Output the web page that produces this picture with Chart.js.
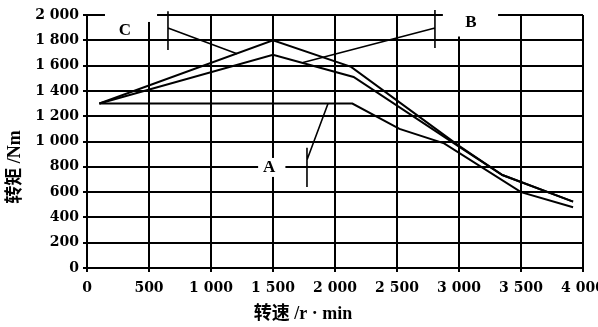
<!DOCTYPE html>
<html>
<head>
<meta charset="utf-8">
<script src="https://cdn.jsdelivr.net/npm/chart.js@4/dist/chart.umd.min.js"></script>
<style>
  html, body { margin: 0; padding: 0; background: #fff; }
</style>
</head>
<body>
<canvas id="chart" width="598" height="327"></canvas>
<script>
// torque curves, speed in r/min, torque in Nm
const speedA = [100, 2140, 2520, 2880, 3500, 3920];
const torqueA = [1300, 1300, 1100, 985, 600, 480];
const speedB = [100, 1500, 2150, 3000, 3350, 3920];
const torqueB = [1300, 1685, 1510, 960, 735, 525];
const speedC = [100, 1500, 2130, 3000, 3350, 3920];
const torqueC = [1300, 1800, 1590, 965, 735, 525];

const xTickLabels = ['0', '500', '1 000', '1 500', '2 000', '2 500', '3 000', '3 500', '4 000'];
const yTickLabels = ['0', '200', '400', '600', '800', '1 000', '1 200', '1 400', '1 600', '1 800', '2 000'];

// leader lines for the curve labels
const leaderA = [[1774, 950], [1774, 640], null, [1774, 854], [1944, 1300]];
const leaderB = [[2806, 2040], [2806, 1740], null, [2806, 1897], [1742, 1625]];
const leaderC = [[653, 2030], [653, 1724], null, [653, 1897], [1210, 1694]];

const curveLabels = [
  { text: 'A', x: 1468, y: 790, box: [1380, 1600, 870, 720] },
  { text: 'B', x: 3097, y: 1937, box: [2870, 3315, 2120, 1830] },
  { text: 'C', x: 306, y: 1873, box: [145, 565, 2120, 1945] }
];

const xTitle = '转速 /r · min';
const yTitle = '转矩 /Nm';

const toPoints = (xs, ys) => xs.map((x, i) => ({ x: x, y: ys[i] }));
const toLeader = (pts) => pts.map(p => p ? { x: p[0], y: p[1] } : { x: null, y: null });

const serif = "'Liberation Serif', 'Noto Sans CJK SC', serif";
const tickFont = "'DejaVu Serif', serif";

const labelPlugin = {
  id: 'curveLabels',
  beforeDatasetsDraw(chart) {
    const ctx = chart.ctx;
    const xs = chart.scales.x, ys = chart.scales.y;
    ctx.save();
    curveLabels.forEach(l => {
      const x0 = xs.getPixelForValue(l.box[0]), x1 = xs.getPixelForValue(l.box[1]);
      const y0 = ys.getPixelForValue(l.box[2]), y1 = ys.getPixelForValue(l.box[3]);
      ctx.fillStyle = '#fff';
      ctx.fillRect(x0, y0, x1 - x0, y1 - y0);
    });
    ctx.fillStyle = '#000';
    ctx.font = 'bold 17px ' + serif;
    ctx.textAlign = 'center';
    ctx.textBaseline = 'middle';
    curveLabels.forEach(l => {
      ctx.fillText(l.text, xs.getPixelForValue(l.x), ys.getPixelForValue(l.y));
    });
    ctx.restore();
  },
  afterDraw(chart) {
    // axis titles, placed off-centre as in the source figure
    const ctx = chart.ctx;
    const area = chart.chartArea;
    ctx.save();
    ctx.fillStyle = '#000';
    ctx.font = 'bold 18px ' + serif;
    ctx.textAlign = 'center';
    ctx.textBaseline = 'middle';
    ctx.fillText(xTitle, area.left + 216, area.bottom + 46);
    ctx.translate(15, area.top + 152);
    ctx.rotate(-Math.PI / 2);
    ctx.fillText(yTitle, 0, 0);
    ctx.restore();
  }
};

const lineStyle = { borderColor: '#000', borderWidth: 2, pointRadius: 0, fill: false, tension: 0 };
const leaderStyle = { borderColor: '#000', borderWidth: 1.6, pointRadius: 0, fill: false, spanGaps: false, clip: false };

new Chart(document.getElementById('chart'), {
  type: 'line',
  data: {
    datasets: [
      Object.assign({ label: 'A', data: toPoints(speedA, torqueA) }, lineStyle),
      Object.assign({ label: 'B', data: toPoints(speedB, torqueB) }, lineStyle),
      Object.assign({ label: 'C', data: toPoints(speedC, torqueC) }, lineStyle),
      Object.assign({ label: 'la', data: toLeader(leaderA) }, leaderStyle),
      Object.assign({ label: 'lb', data: toLeader(leaderB) }, leaderStyle),
      Object.assign({ label: 'lc', data: toLeader(leaderC) }, leaderStyle)
    ]
  },
  options: {
    responsive: false,
    animation: false,
    layout: { padding: { top: 15, right: 15, left: 0, bottom: 0 } },
    plugins: {
      legend: { display: false },
      tooltip: { enabled: false }
    },
    scales: {
      x: {
        type: 'linear',
        min: 0, max: 4000,
        afterFit: (s) => { s.paddingRight = 0; s.paddingLeft = 0; s.height = 59; },
        grid: { color: '#000', lineWidth: 2, tickLength: 4 },
        border: { color: '#000', width: 2 },
        ticks: {
          stepSize: 500,
          color: '#000',
          padding: 8,
          maxRotation: 0,
          font: { family: tickFont, weight: 'bold', size: 14 },
          callback: (v) => xTickLabels[v / 500]
        }
      },
      y: {
        min: 0, max: 2000,
        afterFit: (s) => { s.width = 87; },
        grid: { color: '#000', lineWidth: 2, tickLength: 4 },
        border: { color: '#000', width: 2 },
        ticks: {
          stepSize: 200,
          color: '#000',
          padding: 4,
          font: { family: tickFont, weight: 'bold', size: 14 },
          callback: (v) => yTickLabels[v / 200]
        }
      }
    }
  },
  plugins: [labelPlugin]
});
</script>
</body>
</html>
